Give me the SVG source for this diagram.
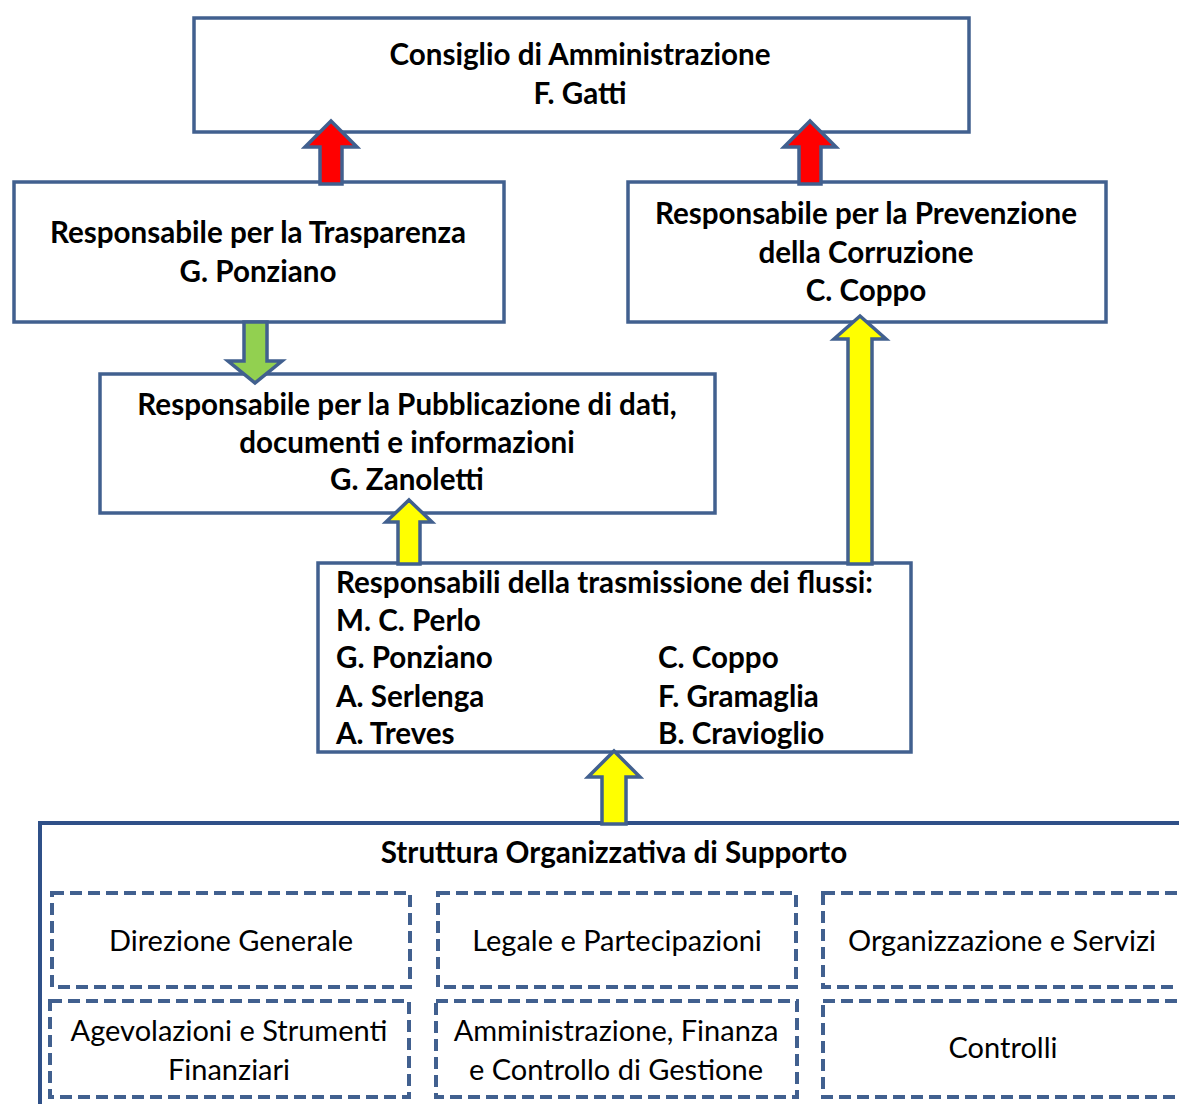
<svg xmlns="http://www.w3.org/2000/svg" width="1179" height="1104" viewBox="0 0 1179 1104">
<style>
.box{fill:#fff;stroke:#41608F;stroke-width:3.5}
.outer{fill:#fff;stroke:#2F5088;stroke-width:4}
.dash{fill:none;stroke:#41608F;stroke-width:4;stroke-dasharray:12 6}
.arr{stroke:#41608F;stroke-width:3.5;stroke-linejoin:miter}
.b{font-family:Lato,"Open Sans","Liberation Sans",sans-serif;font-weight:bold;font-size:29.6px;fill:#000}
.r{font-family:Lato,"Open Sans","Liberation Sans",sans-serif;font-size:29px;fill:#000}
.c{text-anchor:middle}
</style>
<rect width="1179" height="1104" fill="#fff"/>
<g id="consiglio">
<rect class="box" x="194" y="18" width="775" height="114"/>
<text class="b c" x="580" y="65">Consiglio di Amministrazione</text>
<text class="b c" x="580" y="104">F. Gatti</text>
</g>
<g id="trasparenza">
<rect class="box" x="14" y="182" width="490" height="140"/>
<text class="b c" x="258" y="243">Responsabile per la Trasparenza</text>
<text class="b c" x="258" y="282">G. Ponziano</text>
</g>
<g id="prevenzione">
<rect class="box" x="628" y="182" width="478" height="140"/>
<text class="b c" x="866" y="224">Responsabile per la Prevenzione</text>
<text class="b c" x="866" y="263">della Corruzione</text>
<text class="b c" x="866" y="301">C. Coppo</text>
</g>
<g id="pubblicazione">
<rect class="box" x="100" y="374" width="615" height="139"/>
<text class="b c" x="407" y="415">Responsabile per la Pubblicazione di dati,</text>
<text class="b c" x="407" y="453">documenti e informazioni</text>
<text class="b c" x="407" y="490">G. Zanoletti</text>
</g>
<g id="flussi">
<rect class="box" x="318" y="563" width="593" height="189"/>
<text class="b" x="336" y="593">Responsabili della trasmissione dei flussi:</text>
<text class="b" x="336" y="631">M. C. Perlo</text>
<text class="b" x="336" y="668">G. Ponziano</text>
<text class="b" x="336" y="707">A. Serlenga</text>
<text class="b" x="336" y="744">A. Treves</text>
<text class="b" x="658" y="668">C. Coppo</text>
<text class="b" x="658" y="707">F. Gramaglia</text>
<text class="b" x="658" y="744">B. Cravioglio</text>
</g>
<g id="struttura">
<rect class="outer" x="40" y="823" width="1160" height="300"/>
<text class="b c" x="614" y="863">Struttura Organizzativa di Supporto</text>
</g>
<g id="direzione">
<rect class="dash" x="52" y="893" width="358" height="94"/>
<text class="r c" x="231" y="951">Direzione Generale</text>
</g>
<g id="legale">
<rect class="dash" x="438" y="893" width="358" height="94"/>
<text class="r c" x="617" y="951">Legale e Partecipazioni</text>
</g>
<g id="organizzazione">
<rect class="dash" x="823" y="893" width="380" height="94"/>
<text class="r c" x="1002" y="951">Organizzazione e Servizi</text>
</g>
<g id="agevolazioni">
<rect class="dash" x="50" y="1001" width="359" height="96"/>
<text class="r c" x="229" y="1041">Agevolazioni e Strumenti</text>
<text class="r c" x="229" y="1080">Finanziari</text>
</g>
<g id="amministrazione">
<rect class="dash" x="436" y="1001" width="361" height="96"/>
<text class="r c" x="616" y="1041">Amministrazione, Finanza</text>
<text class="r c" x="616" y="1080">e Controllo di Gestione</text>
</g>
<g id="controlli">
<rect class="dash" x="823" y="1001" width="380" height="96"/>
<text class="r c" x="1003" y="1058">Controlli</text>
</g>
<g id="connectors">
<polygon class="arr" fill="#FF0000" points="331,121 357,147 342,147 342,184 320,184 320,147 305,147"/>
<polygon class="arr" fill="#FF0000" points="810,121 836,147 821,147 821,184 799,184 799,147 784,147"/>
<polygon class="arr" fill="#92D050" points="244,322 267,322 267,361 282,361 255,383 228,361 244,361"/>
<polygon class="arr" fill="#FFFF00" points="860,316 886,339 872,339 872,564 848,564 848,339 834,339"/>
<polygon class="arr" fill="#FFFF00" points="409,500 432,522 420,522 420,564 398,564 398,522 386,522"/>
<polygon class="arr" fill="#FFFF00" points="614,751 640,777 626,777 626,824 602,824 602,777 588,777"/>
</g>
</svg>
